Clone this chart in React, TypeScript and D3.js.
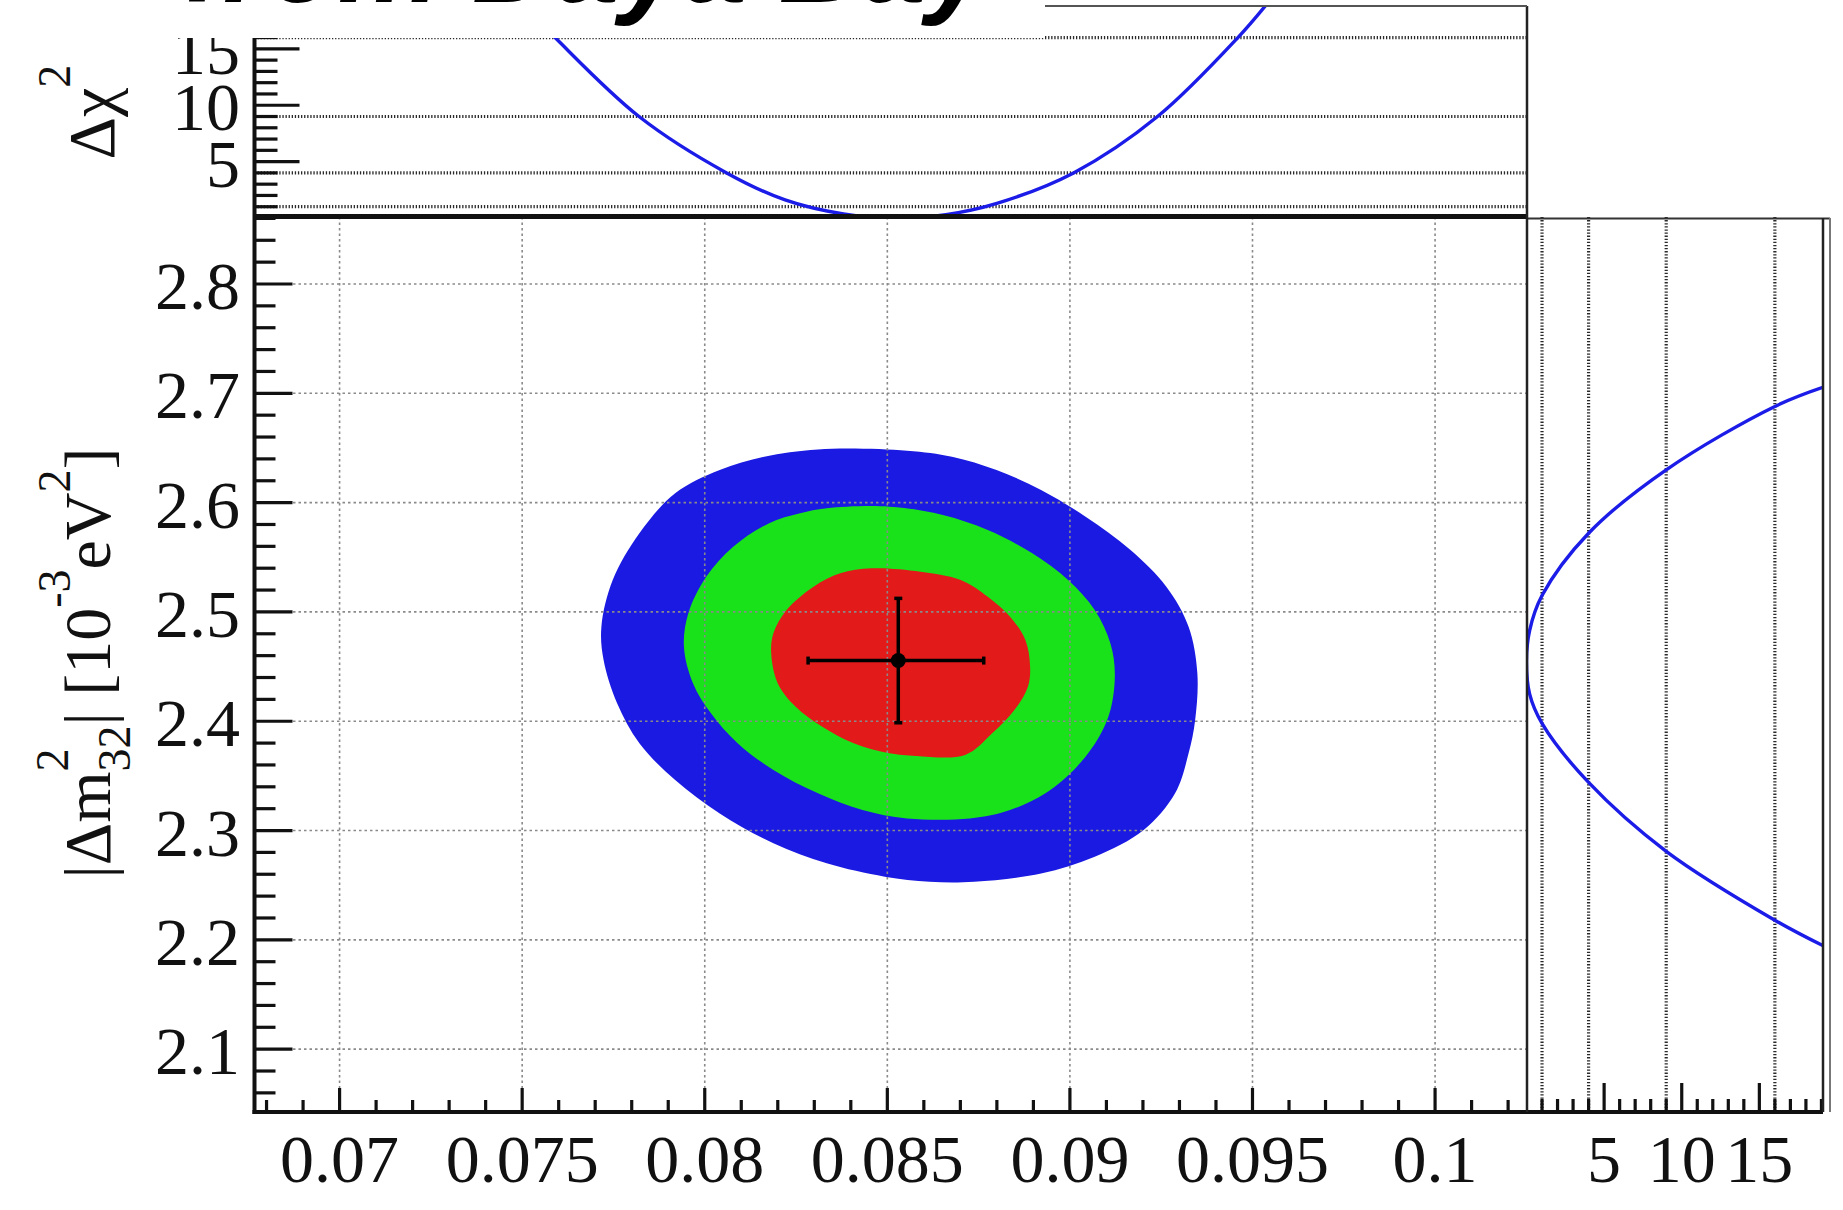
import React from "react";
import * as d3 from "d3";

// ---------- data ----------
const sin2Ticks = [0.07, 0.075, 0.08, 0.085, 0.09, 0.095, 0.1];
const sin2TickLabels = ["0.07", "0.075", "0.08", "0.085", "0.09", "0.095", "0.1"];
const dmTicks = [2.1, 2.2, 2.3, 2.4, 2.5, 2.6, 2.7, 2.8];
const dmTickLabels = ["2.1", "2.2", "2.3", "2.4", "2.5", "2.6", "2.7", "2.8"];
const chi2Ticks = [5, 10, 15];
const chi2TickLabels = ["5", "10", "15"];
const sigmaLevels = [1, 4, 9, 16];

// 3 sigma (blue) contour: [sin^2 2theta13, |dm^2_32|]
const contourBlue: [number, number][] = [
  [0.0831, 2.6487], [0.08554, 2.6475], [0.08677, 2.642], [0.08799, 2.6298],
  [0.08921, 2.6115], [0.09043, 2.5871], [0.09166, 2.5566], [0.09264, 2.5231],
  [0.09325, 2.4865], [0.09349, 2.4438], [0.09343, 2.4011], [0.09325, 2.3706],
  [0.09288, 2.334], [0.09202, 2.3005], [0.09068, 2.2761], [0.08921, 2.2608],
  [0.08738, 2.2532], [0.08616, 2.2532], [0.08493, 2.2578], [0.08334, 2.27],
  [0.08188, 2.2883], [0.08041, 2.3157], [0.07919, 2.3462], [0.07821, 2.3798],
  [0.0776, 2.4164], [0.07723, 2.456], [0.07717, 2.4865], [0.07748, 2.5292],
  [0.07821, 2.5719], [0.07919, 2.6085], [0.08041, 2.6298], [0.08163, 2.642],
];
// 2 sigma (green) contour
const contourGreen: [number, number][] = [
  [0.08334, 2.5948], [0.08506, 2.5963], [0.08652, 2.5887], [0.08775, 2.5749],
  [0.08897, 2.5536], [0.08995, 2.5292], [0.09068, 2.5017], [0.09111, 2.4712],
  [0.09123, 2.4438], [0.09111, 2.4102], [0.0908, 2.3858], [0.09019, 2.3584],
  [0.08933, 2.334], [0.08836, 2.3188], [0.08726, 2.3111], [0.08554, 2.3111],
  [0.08432, 2.3188], [0.0831, 2.334], [0.08188, 2.3554], [0.0809, 2.3798],
  [0.08017, 2.4072], [0.07968, 2.4346], [0.07943, 2.4682], [0.07955, 2.4987],
  [0.08004, 2.5322], [0.08078, 2.5597], [0.08175, 2.581], [0.08261, 2.5902],
];
// 1 sigma (red) contour
const contourRed: [number, number][] = [
  [0.08457, 2.5399], [0.08591, 2.5368], [0.08701, 2.5292], [0.08775, 2.5139],
  [0.08836, 2.4956], [0.08878, 2.4743], [0.08891, 2.4499], [0.08885, 2.4316],
  [0.08848, 2.4102], [0.08787, 2.3889], [0.08713, 2.3691], [0.08579, 2.3682],
  [0.08506, 2.3706], [0.08408, 2.3798], [0.08322, 2.395], [0.08249, 2.4133],
  [0.082, 2.4346], [0.08182, 2.4621], [0.08188, 2.4804], [0.08224, 2.5017],
  [0.08298, 2.5231], [0.08371, 2.5353],
];
// best fit point with errors
const bestFit = { s: 0.0853, dm: 2.4555, sLo: 0.08283, sHi: 0.08764, dmLo: 2.3986, dmHi: 2.5124 };

// Delta chi^2 profile vs sin^2 2theta13 (top panel)
const profileSin2: [number, number][] = [
  [0.075, 19.0], [0.0759, 16.0], [0.0782, 9.0], [0.0806, 4.0], [0.0822, 1.6],
  [0.0838, 0.35], [0.0852, 0.0], [0.0866, 0.3], [0.088, 1.3], [0.0901, 4.0],
  [0.0924, 9.0], [0.0946, 16.0], [0.0954, 19.0],
];
// Delta chi^2 profile vs |dm^2_32| (right panel): [dm, chi2]
const profileDm: [number, number][] = [
  [2.706, 19.2], [2.688, 16.0], [2.63, 9.0], [2.572, 4.0], [2.515, 1.0],
  [2.483, 0.2], [2.455, 0.0], [2.425, 0.2], [2.398, 1.0], [2.344, 4.0],
  [2.281, 9.0], [2.218, 16.0], [2.194, 19.2],
];

const SERIF = "'Liberation Serif', 'Times New Roman', serif";

export default function App() {
  const L = 254.5, R = 1527, T = 217, B = 1112, TT = 6, RR = 1823;
  const x = d3.scaleLinear().domain([0.06767, 0.10249]).range([L, R - 1]);
  const y = d3.scaleLinear().domain([2.0425, 2.8613]).range([B, T]);
  const yTop = d3.scaleLinear().domain([0, 18.8]).range([218, TT]);
  const xRight = d3.scaleLinear().domain([0, 19.1]).range([R - 0.5, RR]);

  const closed = d3
    .line<[number, number]>()
    .x((d) => x(d[0]))
    .y((d) => y(d[1]))
    .curve(d3.curveCatmullRomClosed.alpha(0.5));
  const topLine = d3
    .line<[number, number]>()
    .x((d) => x(d[0]))
    .y((d) => yTop(d[1]))
    .curve(d3.curveCatmullRom.alpha(0.5));
  const rightLine = d3
    .line<[number, number]>()
    .x((d) => xRight(d[1]))
    .y((d) => y(d[0]))
    .curve(d3.curveCatmullRom.alpha(0.5));

  const near = (a: number[], v: number) => a.some((t) => Math.abs(t - v) < 1e-9);
  const sin2Minor = d3.range(68, 103).map((i) => i / 1000).filter((v) => !near(sin2Ticks, v));
  const dmMinor = d3.range(206, 287, 2).map((i) => i / 100).filter((v) => !near(dmTicks, v));
  const topMinor = d3.range(1, 19).filter((v) => !near(chi2Ticks, v));
  const rightMinor = d3.range(1, 20).filter((v) => !near(chi2Ticks, v));

  const blue = "#1a1ae2";
  const green = "#1ae21a";
  const red = "#e21a1a";
  const curveBlue = "#1c1ce8";

  const gridMain = { stroke: "#8a8a8a", strokeWidth: 1.6, strokeDasharray: "2.5 3" };
  const gridSig = { stroke: "#2a2a2a", strokeWidth: 3.2, strokeDasharray: "1.3 1.8" };

  return (
    <svg
      width={1843}
      height={1210}
      style={{ position: "absolute", left: 0, top: 0, background: "#fff" }}
      fontFamily={SERIF}
    >
      <defs>
        <clipPath id="clipMain">
          <rect x={L} y={T} width={R - L} height={B - T} />
        </clipPath>
        <clipPath id="clipTop">
          <rect x={L} y={TT} width={R - L} height={218 - TT} />
        </clipPath>
        <clipPath id="clipRight">
          <rect x={R} y={T} width={RR - R} height={B - T} />
        </clipPath>
      </defs>
      <rect x={0} y={0} width={1843} height={1210} fill="#fff" />

      {/* ---------- main panel ---------- */}
      <g clipPath="url(#clipMain)">
        <path d={closed(contourBlue) || ""} fill={blue} />
        <path d={closed(contourGreen) || ""} fill={green} />
        <path d={closed(contourRed) || ""} fill={red} />
      </g>
      {sin2Ticks.map((t) => (
        <line key={"gx" + t} x1={x(t)} x2={x(t)} y1={T} y2={B} {...gridMain} />
      ))}
      {dmTicks.map((t) => (
        <line key={"gy" + t} x1={L} x2={R} y1={y(t)} y2={y(t)} {...gridMain} />
      ))}
      {/* best fit */}
      <g stroke="#000" strokeWidth={3.5}>
        <line x1={x(bestFit.sLo)} x2={x(bestFit.sHi)} y1={y(bestFit.dm)} y2={y(bestFit.dm)} />
        <line x1={x(bestFit.s)} x2={x(bestFit.s)} y1={y(bestFit.dmLo)} y2={y(bestFit.dmHi)} />
        <line x1={x(bestFit.sLo)} x2={x(bestFit.sLo)} y1={y(bestFit.dm) - 4} y2={y(bestFit.dm) + 4} />
        <line x1={x(bestFit.sHi)} x2={x(bestFit.sHi)} y1={y(bestFit.dm) - 4} y2={y(bestFit.dm) + 4} />
        <line x1={x(bestFit.s) - 4} x2={x(bestFit.s) + 4} y1={y(bestFit.dmLo)} y2={y(bestFit.dmLo)} />
        <line x1={x(bestFit.s) - 4} x2={x(bestFit.s) + 4} y1={y(bestFit.dmHi)} y2={y(bestFit.dmHi)} />
      </g>
      <circle cx={x(bestFit.s)} cy={y(bestFit.dm)} r={7.5} fill="#000" />

      {/* main axes ticks */}
      <g stroke="#111" strokeWidth={3.2}>
        {sin2Ticks.map((t) => (
          <line key={"tx" + t} x1={x(t)} x2={x(t)} y1={B} y2={B - 24} />
        ))}
        {sin2Minor.map((t) => (
          <line key={"mx" + t} x1={x(t)} x2={x(t)} y1={B} y2={B - 12} />
        ))}
        {dmTicks.map((t) => (
          <line key={"ty" + t} x1={L} x2={L + 38} y1={y(t)} y2={y(t)} />
        ))}
        {dmMinor.map((t) => (
          <line key={"my" + t} x1={L} x2={L + 21} y1={y(t)} y2={y(t)} />
        ))}
      </g>
      <g fontSize={68} fill="#111">
        {sin2Ticks.map((t, i) => (
          <text key={"lx" + t} x={x(t)} y={1182} textAnchor="middle">
            {sin2TickLabels[i]}
          </text>
        ))}
        {dmTicks.map((t, i) => (
          <text key={"ly" + t} x={240} y={y(t) + 25} textAnchor="end">
            {dmTickLabels[i]}
          </text>
        ))}
      </g>

      {/* ---------- top panel ---------- */}
      {sigmaLevels.map((s) => (
        <line key={"gt" + s} x1={L} x2={R} y1={yTop(s)} y2={yTop(s)} {...gridSig} />
      ))}
      <g clipPath="url(#clipTop)">
        <path d={topLine(profileSin2) || ""} fill="none" stroke={curveBlue} strokeWidth={3.4} />
      </g>
      <g stroke="#111" strokeWidth={3.2}>
        {chi2Ticks.map((t) => (
          <line key={"tt" + t} x1={L} x2={L + 45} y1={yTop(t)} y2={yTop(t)} />
        ))}
        {topMinor.map((t) => (
          <line key={"mt" + t} x1={L} x2={L + 23} y1={yTop(t)} y2={yTop(t)} />
        ))}
      </g>
      <g fontSize={68} fill="#111">
        {chi2Ticks.map((t, i) => (
          <text key={"lt" + t} x={240} y={yTop(t) + 25} textAnchor="end">
            {chi2TickLabels[i]}
          </text>
        ))}
      </g>
      <text
        transform="translate(114,112) rotate(-90)"
        textAnchor="middle"
        fontSize={66}
        fill="#111"
      >
        Δχ<tspan fontSize={46} dy={-44}>2</tspan>
      </text>

      {/* ---------- right panel ---------- */}
      {sigmaLevels.map((s) => (
        <line key={"gr" + s} x1={xRight(s)} x2={xRight(s)} y1={T} y2={B} {...gridSig} />
      ))}
      <g clipPath="url(#clipRight)">
        <path d={rightLine(profileDm) || ""} fill="none" stroke={curveBlue} strokeWidth={3.4} />
      </g>
      <g stroke="#111" strokeWidth={3.2}>
        {chi2Ticks.map((t) => (
          <line key={"tr" + t} x1={xRight(t)} x2={xRight(t)} y1={B} y2={B - 29} />
        ))}
        {rightMinor.map((t) => (
          <line key={"mr" + t} x1={xRight(t)} x2={xRight(t)} y1={B} y2={B - 13} />
        ))}
      </g>
      <g fontSize={68} fill="#111">
        {chi2Ticks.map((t, i) => (
          <text key={"lr" + t} x={xRight(t)} y={1182} textAnchor="middle">
            {chi2TickLabels[i]}
          </text>
        ))}
      </g>

      {/* ---------- frames ---------- */}
      <line x1={L} x2={L} y1={TT} y2={B + 2} stroke="#111" strokeWidth={4} />
      <line x1={L - 2} x2={RR} y1={B} y2={B} stroke="#111" strokeWidth={4} />
      <line x1={L} x2={R} y1={216.5} y2={216.5} stroke="#111" strokeWidth={5} />
      <line x1={R} x2={RR + 7} y1={218.5} y2={218.5} stroke="#333" strokeWidth={2} />
      <line x1={R} x2={R} y1={TT} y2={B} stroke="#222" strokeWidth={2.5} />
      <line x1={L} x2={R} y1={TT} y2={TT} stroke="#555" strokeWidth={2} />
      <line x1={RR} x2={RR} y1={218} y2={B} stroke="#222" strokeWidth={2.5} />
      <line x1={RR + 7} x2={RR + 7} y1={218} y2={B} stroke="#777" strokeWidth={2} />

      {/* main y-axis title */}
      <text
        transform="translate(110,663) rotate(-90)"
        textAnchor="middle"
        fontSize={66}
        fill="#111"
      >
        |Δm<tspan fontSize={46} dy={-42}>2</tspan>
        <tspan fontSize={46} dx={-23} dy={62}>32</tspan>
        <tspan dy={-20}>| [10</tspan>
        <tspan fontSize={46} dy={-40}>-3</tspan>
        <tspan dy={40}>eV</tspan>
        <tspan fontSize={46} dy={-40}>2</tspan>
        <tspan dy={40}>]</tspan>
      </text>

      {/* cut-off heading above the plot */}
      <rect x={0} y={0} width={1045} height={38} fill="#fff" />
      <text
        x={990}
        y={2}
        textAnchor="end"
        fontFamily="'Liberation Sans', Arial, sans-serif"
        fontWeight="bold"
        fontStyle="italic"
        fontSize={115}
        fill="#000"
      >
        from Daya Bay
      </text>
    </svg>
  );
}
